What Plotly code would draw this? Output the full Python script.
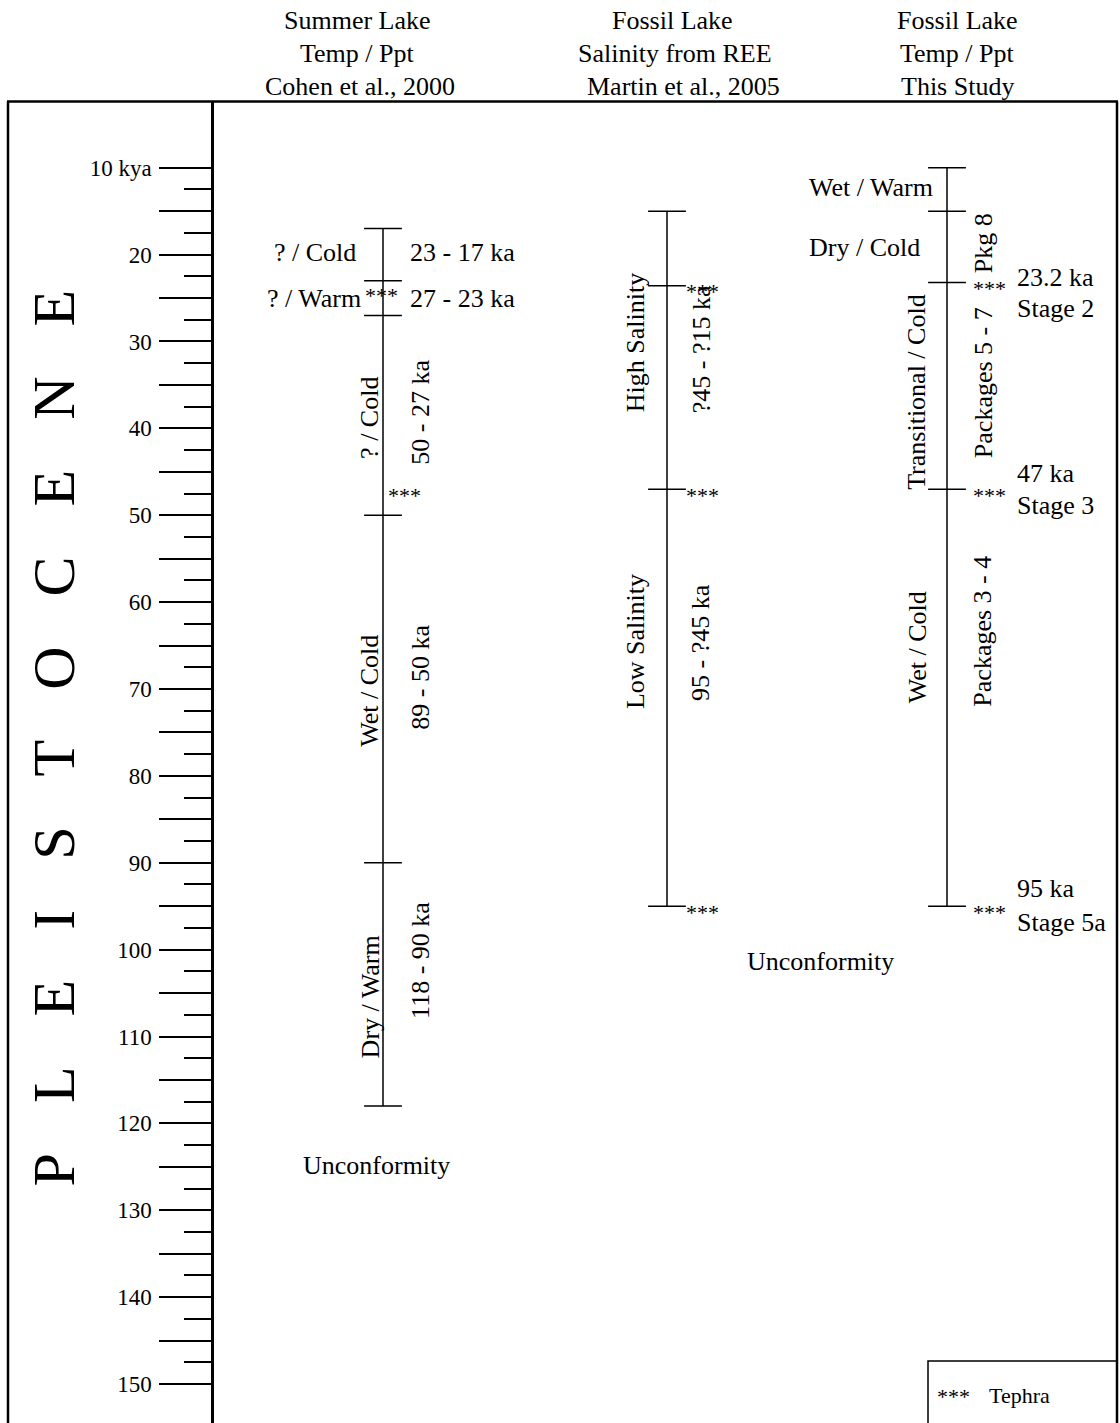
import plotly.graph_objects as go

W, H = 1120, 1423
SERIF = "Liberation Serif"

# ---- age scale (kya) ----
major_ticks = [10, 15, 20, 25, 30, 35, 40, 45, 50, 55, 60, 65, 70, 75, 80, 85, 90,
               95, 100, 105, 110, 115, 120, 125, 130, 135, 140, 145, 150]
minor_ticks = [12.5, 17.5, 22.5, 27.5, 32.5, 37.5, 42.5, 47.5, 52.5, 57.5, 62.5, 67.5,
               72.5, 77.5, 82.5, 87.5, 92.5, 97.5, 102.5, 107.5, 112.5, 117.5, 122.5,
               127.5, 132.5, 137.5, 142.5, 147.5]
tick_text = ["10 kya", "", "20", "", "30", "", "40", "", "50", "", "60", "", "70", "",
             "80", "", "90", "", "100", "", "110", "", "120", "", "130", "", "140", "", "150"]

# ---- Summer Lake (Cohen et al., 2000) ----
summer_bounds = [17, 23, 27, 50, 90, 118]
summer_tephra = [24, 47]
summer_climate = ["? / Cold", "? / Warm", "? / Cold", "Wet / Cold", "Dry / Warm"]
summer_ranges = ["23 - 17 ka", "27 - 23 ka", "50 - 27 ka", "89 - 50 ka", "118 - 90 ka"]

# ---- Fossil Lake salinity (Martin et al., 2005) ----
salinity_bounds = [15, 23.6, 47, 95]
salinity_tephra = [23.6, 47, 95]
salinity_state = ["High Salinity", "Low Salinity"]
salinity_ranges = ["?45 - ?15 ka", "95 - ?45 ka"]

# ---- Fossil Lake temp / ppt (this study) ----
fossil_bounds = [10, 15, 23.2, 47, 95]
fossil_tephra = [23.2, 47, 95]
fossil_climate = ["Wet / Warm", "Dry / Cold", "Transitional / Cold", "Wet / Cold"]
fossil_packages = ["Pkg 8", "Packages 5 - 7", "Packages 3 - 4"]
fossil_dates = ["23.2 ka", "47 ka", "95 ka"]
fossil_stages = ["Stage 2", "Stage 3", "Stage 5a"]

headers = [
    ["Summer Lake", "Temp / Ppt", "Cohen et al., 2000"],
    ["Fossil Lake", "Salinity from REE", "Martin et al., 2005"],
    ["Fossil Lake", "Temp / Ppt", "This Study"],
]

# ---- layout geometry (pixels) ----
TOP = 101.5          # top rule of the frame
PX_PER_KY = 8.688    # vertical scale
Y10 = 167.7          # pixel row of 10 kya
AXIS_X = 212
COL_X = [383, 667, 947]


def kya_at(px):
    return 10 + (px - Y10) / PX_PER_KY


def paper_y(px):
    return 1 - px / H


fig = go.Figure()

# column time bars with end / boundary caps
for x, bounds in zip(COL_X, [summer_bounds, salinity_bounds, fossil_bounds]):
    fig.add_trace(go.Scatter(
        x=[x, x], y=[min(bounds), max(bounds)], mode="lines",
        line=dict(color="black", width=1.5), hoverinfo="skip", showlegend=False))
    fig.add_trace(go.Scatter(
        x=[x] * len(bounds), y=bounds, mode="markers",
        marker=dict(symbol="line-ew", size=27, color="black",
                    line=dict(color="black", width=1.5)),
        hoverinfo="skip", showlegend=False))

annotations = []


def txt(text, x, y, size=26, angle=0, xanchor="center", xref="x", yref="y", yshift=0):
    annotations.append(dict(
        text=text, x=x, y=y, xref=xref, yref=yref, showarrow=False,
        xanchor=xanchor, yanchor="middle", textangle=angle, yshift=yshift,
        font=dict(family=SERIF, size=size, color="black")))


# column headers
header_x = [[357, 357, 360], [672, 675, 683], [957, 957, 957]]
header_rows = [20.0, 53.5, 86.5]
for lines, xs in zip(headers, header_x):
    for line, hx, hy in zip(lines, xs, header_rows):
        txt(line, hx, paper_y(hy), yref="paper")

# Summer Lake column
txt(summer_climate[0], 358, 19.8, xanchor="right")
txt(summer_ranges[0], 408, 19.8, xanchor="left")
txt(summer_climate[1], 363, 25.0, xanchor="right")
txt(summer_ranges[1], 408, 25.0, xanchor="left")
txt(summer_climate[2], 370, 38.8, angle=-90)
txt(summer_ranges[2], 421, 38.2, angle=-90)
txt(summer_climate[3], 370, 70.2, angle=-90)
txt(summer_ranges[3], 421, 68.7, angle=-90)
txt(summer_climate[4], 370, 105.5, angle=-90)
txt(summer_ranges[4], 421, 101.3, angle=-90)
txt("Unconformity", 376, 124.8)

# Fossil Lake salinity column
txt(salinity_state[0], 635, 30.2, angle=-90)
txt(salinity_ranges[0], 701, 30.9, angle=-90)
txt(salinity_state[1], 635, 64.6, angle=-90)
txt(salinity_ranges[1], 701, 64.7, angle=-90)
txt("Unconformity", 820, 101.4)

# Fossil Lake temp / ppt column
txt(fossil_climate[0], 935, 12.3, xanchor="right")
txt(fossil_climate[1], 922, 19.2, xanchor="right")
txt(fossil_climate[2], 917, 35.8, angle=-90)
txt(fossil_climate[3], 917, 65.2, angle=-90)
txt(fossil_packages[0], 983, 18.7, angle=-90)
txt(fossil_packages[1], 983, 34.8, angle=-90)
txt(fossil_packages[2], 983, 63.4, angle=-90)
for date, stage, y_date, y_stage in zip(fossil_dates, fossil_stages,
                                        [kya_at(277), kya_at(473), kya_at(888)],
                                        [kya_at(308), kya_at(505), kya_at(922)]):
    txt(date, 1015, y_date, xanchor="left")
    txt(stage, 1015, y_stage, xanchor="left")

# tephra markers
for x, ages in zip([381, 702, 989], [summer_tephra[:1], salinity_tephra, fossil_tephra]):
    for a in ages:
        txt("***", x, a, size=22, yshift=-6)
txt("***", 404, summer_tephra[1], size=22, yshift=-6)

# epoch name
txt("P\u00a0\u00a0\u00a0\u200aL\u00a0\u00a0\u00a0\u200aE\u00a0\u00a0\u00a0\u200aI\u00a0\u00a0\u00a0\u200aS"
    "\u00a0\u00a0\u00a0\u200aT\u00a0\u00a0\u00a0\u200aO\u00a0\u00a0\u00a0\u200aC\u00a0\u00a0\u00a0\u200aE"
    "\u00a0\u00a0\u00a0\u200aN\u00a0\u00a0\u00a0\u200aE", 53, kya_at(738.5), size=60, angle=-90)

# legend box text
txt("***", 953, kya_at(1396.5), size=22)
txt("Tephra", 987, kya_at(1395), size=22, xanchor="left")

# frame and legend box
frame = dict(color="black", width=2.5)
shapes = [
    dict(type="line", xref="x", yref="paper", x0=8, x1=8, y0=-0.01, y1=paper_y(TOP), line=frame),
    dict(type="line", xref="x", yref="paper", x0=1117, x1=1117, y0=-0.01, y1=paper_y(TOP), line=frame),
    dict(type="line", xref="x", yref="paper", x0=7, x1=1118, y0=paper_y(TOP), y1=paper_y(TOP), line=frame),
    dict(type="rect", xref="x", yref="paper", x0=928, x1=1117, y0=-0.02, y1=paper_y(1361),
         line=dict(color="black", width=1.5)),
]

fig.update_layout(
    width=W, height=H, autosize=False,
    margin=dict(l=0, r=0, t=0, b=0, pad=0),
    paper_bgcolor="white", plot_bgcolor="white",
    showlegend=False,
    xaxis=dict(range=[0, W], domain=[0, 1], visible=False, fixedrange=True),
    yaxis=dict(
        domain=[0, paper_y(TOP)],
        range=[kya_at(H), kya_at(TOP)],
        anchor="free", position=AXIS_X / W, side="left",
        showline=True, linewidth=2.5, linecolor="black",
        showgrid=False, zeroline=False, fixedrange=True,
        tickmode="array", tickvals=major_ticks, ticktext=tick_text,
        ticks="outside", ticklen=52, tickwidth=1.5, tickcolor="black",
        ticklabelstandoff=3,
        tickfont=dict(family=SERIF, size=23, color="black"),
        minor=dict(tickmode="array", tickvals=minor_ticks, ticks="outside",
                   ticklen=27, tickwidth=1.5, tickcolor="black", showgrid=False),
    ),
    annotations=annotations,
    shapes=shapes,
)

fig.write_html("out.html")
